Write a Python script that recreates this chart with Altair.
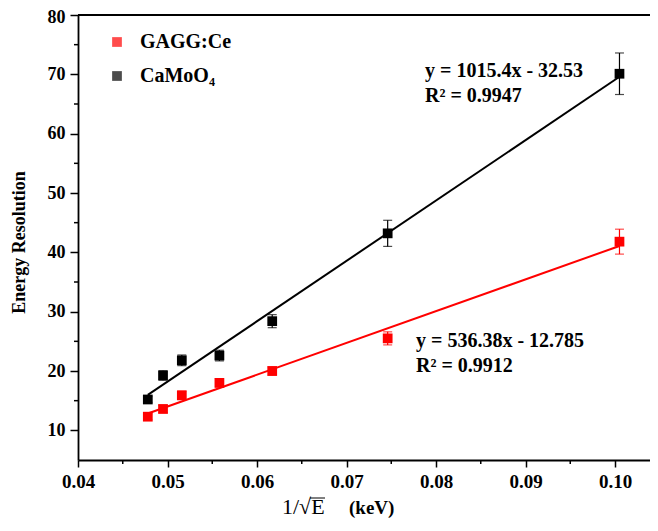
import altair as alt
import pandas as pd

# ---- data ----
x_vals = [0.0478, 0.0495, 0.0516, 0.0558, 0.0617, 0.0746, 0.1005]
gagg_vals = [12.3, 13.6, 15.9, 18.0, 20.0, 25.5, 41.8]
gagg_err = [0.5, 0.6, 0.7, 0.7, 0.7, 1.1, 2.1]
camo_vals = [15.2, 19.25, 21.8, 22.6, 28.4, 43.2, 70.1]
camo_err = [0.5, 0.8, 0.9, 0.9, 1.1, 2.2, 3.5]
series_names = ["GAGG:Ce", "CaMoO₄"]
series_colors = ["#ff0000", "#000000"]

x_ticks = [0.04, 0.05, 0.06, 0.07, 0.08, 0.09, 0.10]
x_minor = [0.045, 0.055, 0.065, 0.075, 0.085, 0.095]
y_ticks = [10, 20, 30, 40, 50, 60, 70, 80]
y_minor = [15, 25, 35, 45, 55, 65, 75]

eq_camo = ["y = 1015.4x - 32.53", "R² = 0.9947"]
eq_gagg = ["y = 536.38x - 12.785", "R² = 0.9912"]
y_title = "Energy Resolution"
x_title_a = "1/√E"
x_title_b = "(keV)"

rows = []
for xv, v, e in zip(x_vals, gagg_vals, gagg_err):
    rows.append({"x": xv, "y": v, "err": e, "series": series_names[0]})
for xv, v, e in zip(x_vals, camo_vals, camo_err):
    rows.append({"x": xv, "y": v, "err": e, "series": series_names[1]})
df = pd.DataFrame(rows)

W, H = 572, 445
FONT = "Liberation Serif"

xscale = alt.Scale(domain=[0.04, 0.04 + 0.01 * W / 89.5], nice=False, zero=False)
yscale = alt.Scale(domain=[5, 80], nice=False, zero=False)

xaxis = alt.Axis(values=x_ticks, format=".2f", title=None, grid=False,
                 tickSize=7, tickWidth=1.5, domainWidth=1.8, labelPadding=5,
                 labelFont=FONT, labelFontWeight="bold", labelFontSize=19,
                 labelColor="black", domainColor="black", tickColor="black",
                 labelFlush=False)
yaxis = alt.Axis(values=y_ticks, title=y_title, grid=False,
                 tickSize=8, tickWidth=1.5, domainWidth=1.8, labelPadding=5,
                 labelFont=FONT, labelFontWeight="bold", labelFontSize=18,
                 labelColor="black", domainColor="black", tickColor="black",
                 labelOffset={"condition": {"test": "datum.value == 80", "value": 2}, "value": 0},
                 titleFont=FONT, titleFontWeight="bold", titleFontSize=18,
                 titleColor="black", titleX=-54, titleY=227, titleAngle=270,
                 titleBaseline="alphabetic", titleAlign="center", labelFlush=False)


def X(field):
    return alt.X(field, type="quantitative", scale=xscale, axis=xaxis)


def Y(field):
    return alt.Y(field, type="quantitative", scale=yscale, axis=yaxis)


color = alt.Color("series:N",
                  scale=alt.Scale(domain=series_names, range=series_colors),
                  legend=alt.Legend(title=None, orient="none", legendX=29, legendY=17,
                                    symbolType="square", symbolSize=95,
                                    symbolStrokeWidth=0, labelFont=FONT,
                                    labelFontWeight="bold", labelFontSize=20,
                                    labelColor="black", labelOffset=13,
                                    rowPadding=14))

base = alt.Chart(df)

lines = base.transform_regression("x", "y", groupby=["series"]).mark_line(
    strokeWidth=2).encode(x=X("x"), y=Y("y"), color=color)

errs = base.transform_calculate(lo="datum.y - datum.err", hi="datum.y + datum.err")
err_rule = errs.mark_rule(strokeWidth=1.2).encode(x=X("x"), y=Y("lo"), y2="hi:Q", color=color)
cap_lo = errs.mark_tick(orient="horizontal", size=9, thickness=1.2).encode(x=X("x"), y=Y("lo"), color=color)
cap_hi = errs.mark_tick(orient="horizontal", size=9, thickness=1.2).encode(x=X("x"), y=Y("hi"), color=color)

points = base.mark_square(size=95, opacity=1).encode(x=X("x"), y=Y("y"), color=color)

ymin = alt.Chart(pd.DataFrame({"v": y_minor})).mark_rule(
    color="black", strokeWidth=1.5).encode(y=Y("v"), x=alt.value(-4), x2=alt.value(0))
xmin = alt.Chart(pd.DataFrame({"v": x_minor})).mark_rule(
    color="black", strokeWidth=1.5).encode(x=X("v"), y=alt.value(H), y2=alt.value(H + 4))

one = alt.Data(values=[{"a": 1}])
top_border = alt.Chart(one).mark_rule(color="black", strokeWidth=1.8).encode(
    x=alt.value(0), x2=alt.value(W), y=alt.value(0))

txt_camo = alt.Chart(one).mark_text(
    align="left", baseline="alphabetic", font=FONT, fontWeight="bold",
    fontSize=20, lineHeight=25, color="black").encode(
    x=alt.value(347), y=alt.value(62), text=alt.value(eq_camo))
txt_gagg = alt.Chart(one).mark_text(
    align="left", baseline="alphabetic", font=FONT, fontWeight="bold",
    fontSize=20, lineHeight=25, color="black").encode(
    x=alt.value(338), y=alt.value(332), text=alt.value(eq_gagg))

xt_a = alt.Chart(one).mark_text(
    align="left", baseline="alphabetic", font=FONT, fontWeight="normal",
    fontSize=22, color="black").encode(
    x=alt.value(204), y=alt.value(499), text=alt.value(x_title_a))
xt_over = alt.Chart(one).mark_rule(color="black", strokeWidth=1).encode(
    x=alt.value(232), x2=alt.value(247), y=alt.value(483))
xt_b = alt.Chart(one).mark_text(
    align="left", baseline="alphabetic", font=FONT, fontWeight="bold",
    fontSize=19, color="black").encode(
    x=alt.value(271), y=alt.value(499), text=alt.value(x_title_b))

chart = alt.layer(
    lines, err_rule, cap_lo, cap_hi, points, ymin, xmin, top_border,
    txt_camo, txt_gagg, xt_a, xt_over, xt_b
).properties(
    width=W, height=H,
    autosize=alt.AutoSizeParams(type="none"),
    padding={"left": 70, "top": 7, "right": 0, "bottom": 58},
).configure_view(strokeWidth=0).configure(background="white")

chart.save("out.html", embed_options={"renderer": "svg", "actions": False})
